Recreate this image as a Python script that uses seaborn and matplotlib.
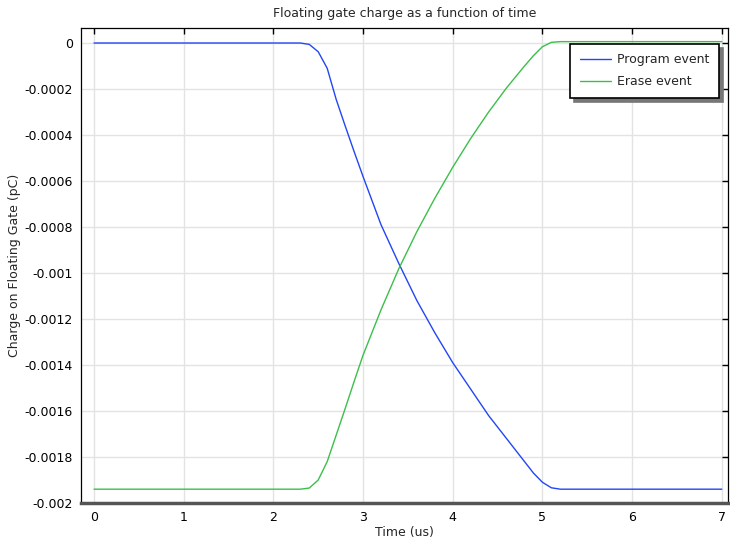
import numpy as np
import pandas as pd
import seaborn as sns
import matplotlib.pyplot as plt

# tempo (us) e carga (pC)
t_prog = [0, 1.0, 2.0, 2.3, 2.4, 2.5, 2.6, 2.7, 2.8, 2.9, 3.0, 3.2, 3.4, 3.6, 3.8,
          4.0, 4.2, 4.4, 4.6, 4.8, 4.9, 5.0, 5.1, 5.2, 5.4, 6.0, 7.0]
q_prog = [0, 0, 0, 0, -0.000006, -0.000038, -0.00011, -0.000245, -0.00036, -0.000472,
          -0.000581, -0.00079, -0.00096, -0.00112, -0.00126, -0.00139, -0.001505,
          -0.00162, -0.00172, -0.00182, -0.00187, -0.00191, -0.001934, -0.00194,
          -0.00194, -0.00194, -0.00194]

t_erase = [0, 1.0, 2.0, 2.3, 2.4, 2.5, 2.6, 2.7, 2.8, 2.9, 3.0, 3.2, 3.4, 3.6, 3.8,
           4.0, 4.2, 4.4, 4.6, 4.8, 4.9, 5.0, 5.1, 5.2, 5.4, 6.0, 7.0]
q_erase = [-0.00194, -0.00194, -0.00194, -0.00194, -0.001935, -0.0019, -0.00182,
           -0.001705, -0.00159, -0.001472, -0.001357, -0.00116, -0.00098, -0.00082,
           -0.000675, -0.00054, -0.000415, -0.0003, -0.000195, -0.0001, -0.000055,
           -0.000016, 0.000003, 0.000006, 0.000006, 0.000006, 0.000006]

series = ["Program event", "Erase event"]
cores = ["#2346f5", "#3cbf4a"]

df = pd.concat([
    pd.DataFrame({"t": t_prog, "q": q_prog, "evento": series[0]}),
    pd.DataFrame({"t": t_erase, "q": q_erase, "evento": series[1]}),
], ignore_index=True)

sns.set_theme(style="white")
plt.rcParams["font.family"] = ["DejaVu Sans"]

fig = plt.figure(figsize=(7.3, 5.44), dpi=100)
ax = fig.add_axes([0.111, 0.0754, 0.886, 0.8731])

sns.lineplot(data=df, x="t", y="q", hue="evento", hue_order=series,
             palette=cores, linewidth=1.0, ax=ax, sort=False)

ax.set_xlim(-0.145, 7.067)
ax.set_ylim(-0.002, 0.0000652)
ax.set_xticks(np.arange(0, 8, 1))
ax.set_xticklabels([str(i) for i in range(8)])
yt = np.arange(0, 11) * -0.0002
ax.set_yticks(yt)
ylabels = ["0"] + [f"{v:.4f}".rstrip("0") for v in yt[1:]]
ylabels[-1] = "-0.002"
ylabels[5] = "-0.001"
ax.set_yticklabels(ylabels)

ax.grid(True, color="#e3e3e3", linewidth=1.0)
ax.tick_params(direction="in", length=4, width=1, colors="black", labelsize=9,
               top=True, right=True, pad=6)
for s in ["top", "left", "right"]:
    ax.spines[s].set_color("black")
    ax.spines[s].set_linewidth(0.9)
ax.spines["bottom"].set_color("#555555")
ax.spines["bottom"].set_linewidth(2.5)

ax.set_title("Floating gate charge as a function of time", fontsize=9, pad=8)
ax.set_xlabel("Time (us)", fontsize=9, labelpad=1)
ax.set_ylabel("Charge on Floating Gate (pC)", fontsize=9, labelpad=2)

leg = ax.legend(loc="upper right", fontsize=9, frameon=True, fancybox=False,
                shadow={"ox": 3, "oy": -3, "color": "#777777", "alpha": 1},
                borderpad=0.75, handlelength=2.5, handletextpad=0.5,
                borderaxespad=0, bbox_to_anchor=(0.986, 0.967), labelspacing=0.75)
leg.get_frame().set_edgecolor("black")
leg.get_frame().set_linewidth(1.2)
leg.get_frame().set_facecolor("white")
leg.get_frame().set_alpha(1)

plt.savefig("out.png", dpi=100)
plt.close()
